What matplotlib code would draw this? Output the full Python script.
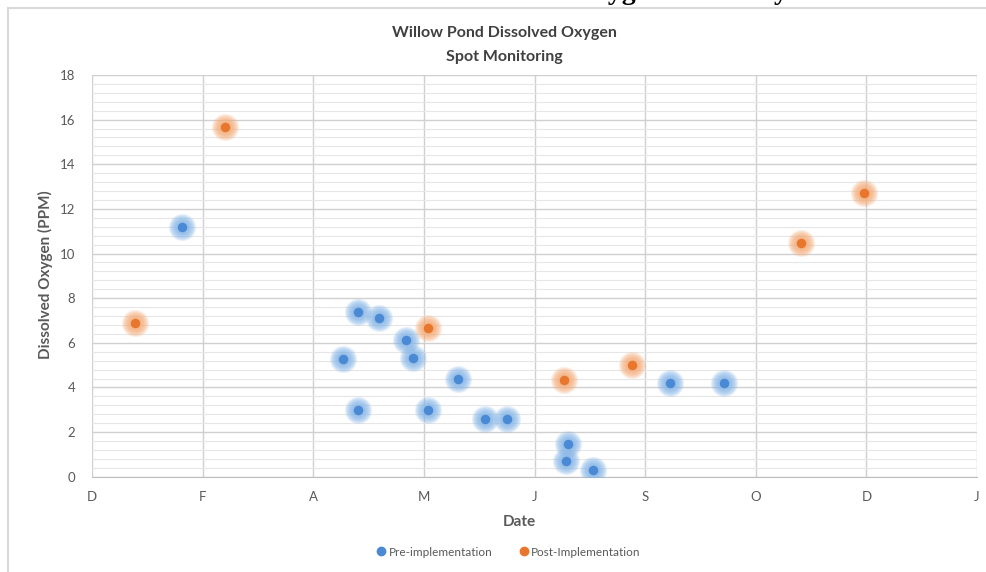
import numpy as np
import matplotlib
matplotlib.use('Agg')
import matplotlib.pyplot as plt
from matplotlib.lines import Line2D

# axis ticks: one tick every 49 days, labelled with the month initial
TICK_STEP = 49
tick_labels = ['D', 'F', 'A', 'M', 'J', 'S', 'O', 'D', 'J']

# days since axis start, dissolved oxygen (ppm)
pre_days = [40, 111, 118, 118, 127, 139, 142, 149, 162, 174, 184, 211, 210, 222, 256, 280]
pre_do = [11.17, 5.28, 7.37, 2.98, 7.09, 6.12, 5.31, 2.98, 4.38, 2.60, 2.60, 1.47, 0.72, 0.30, 4.20, 4.20]

post_days = [19, 59, 149, 209, 239, 314, 342]
post_do = [6.89, 15.67, 6.65, 4.32, 5.00, 10.49, 12.72]

BLUE = '#4a89d4'
BLUE_GLOW = '#86b6e8'
ORANGE = '#e8762d'
ORANGE_GLOW = '#f5ac78'
TXT = '#595959'

plt.rcParams['font.family'] = ['Lato', 'DejaVu Sans']


def glow_scatter(ax, x, y, core, glow):
    # soft halo made of stacked translucent circles
    for d in np.linspace(27, 10, 9):
        ax.scatter(x, y, s=(d * 0.72) ** 2, color=glow, alpha=0.2,
                   linewidths=0, zorder=3)
    ax.scatter(x, y, s=(9.5 * 0.72) ** 2, color=core, linewidths=0, zorder=4)


def main():
    fig = plt.figure(figsize=(9.87, 5.72), dpi=100)
    W, H = 987, 572
    ax = fig.add_axes([92 / W, 1 - 476.7 / H, (977 - 92) / W, (476.7 - 75) / H])

    xmax = TICK_STEP * (len(tick_labels) - 1)
    ax.set_xlim(0, xmax)
    ax.set_ylim(0, 18)

    ax.set_xticks(np.arange(0, xmax + 1, TICK_STEP))
    ax.set_xticklabels(tick_labels)
    ax.set_yticks(np.arange(0, 19, 2))
    ax.set_yticks(np.arange(0, 18.01, 0.4), minor=True)

    ax.grid(which='major', axis='y', color='#d0d0d0', lw=1.0)
    ax.grid(which='minor', axis='y', color='#e6e6e6', lw=0.8)
    ax.grid(which='major', axis='x', color='#d0d0d0', lw=1.0)
    ax.set_axisbelow(True)

    for s in ['top', 'right', 'left']:
        ax.spines[s].set_visible(False)
    ax.spines['bottom'].set_color('#bfbfbf')
    ax.tick_params(which='both', length=0, colors=TXT, labelsize=9.5)
    ax.tick_params(axis='x', pad=10)
    ax.tick_params(axis='y', pad=12)

    glow_scatter(ax, pre_days, pre_do, BLUE, BLUE_GLOW)
    glow_scatter(ax, post_days, post_do, ORANGE, ORANGE_GLOW)

    # titles and axis labels
    fig.text(504 / W, 1 - 33 / H, 'Willow Pond Dissolved Oxygen', ha='center',
             va='center', fontsize=11.5, fontweight='bold', color='#404040')
    fig.text(504 / W, 1 - 57 / H, 'Spot Monitoring', ha='center',
             va='center', fontsize=11.5, fontweight='bold', color='#404040')
    fig.text(45 / W, 1 - 275 / H, 'Dissolved Oxygen (PPM)', rotation=90,
             ha='center', va='center', fontsize=11, fontweight='bold', color=TXT)
    fig.text(519 / W, 1 - 522 / H, 'Date', ha='center', va='center',
             fontsize=11, fontweight='bold', color=TXT)

    # legend
    handles = [Line2D([], [], marker='o', ls='', color=BLUE, markersize=6),
               Line2D([], [], marker='o', ls='', color=ORANGE, markersize=6)]
    fig.legend(handles, ['Pre-implementation', 'Post-Implementation'],
               loc='center', bbox_to_anchor=(508 / W, 1 - 552 / H), ncol=2,
               frameon=False, fontsize=8.5, labelcolor=TXT, handletextpad=0.1,
               columnspacing=2.2, handlelength=1.0)

    # chart frame
    fig.add_artist(Line2D([8 / W, 1], [1 - 8 / H, 1 - 8 / H], color='#d9d9d9', lw=1.5))
    fig.add_artist(Line2D([8 / W, 8 / W], [0, 1 - 8 / H], color='#d9d9d9', lw=1.5))

    # cut-off document heading above the chart (clipped in the original too)
    fig.text(620 / W, 1 + 1 / H, 'Dissolved Oxygen Summary', ha='center',
             va='baseline', fontsize=20, fontweight='bold', color='black',
             family=['Liberation Serif', 'DejaVu Serif'])

    fig.savefig('out.png', dpi=100, facecolor='white')


if __name__ == '__main__':
    main()
